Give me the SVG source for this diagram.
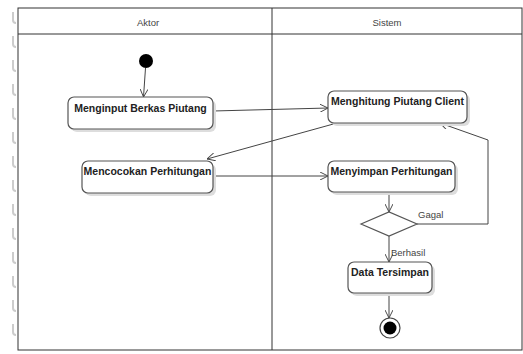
<svg xmlns="http://www.w3.org/2000/svg" width="523" height="354" viewBox="0 0 523 354">
<defs>
<style>
.frame{fill:none;stroke:#333;stroke-width:1}
.node rect{fill:#fff;stroke:#555;stroke-width:1.2}
.node .sh{fill:#ddd;stroke:none}
.lbl{font-family:"Liberation Sans",Arial,sans-serif;font-size:10.5px;font-weight:bold;fill:#222;text-anchor:middle}
.hdr{font-family:"Liberation Sans",Arial,sans-serif;font-size:9.5px;fill:#444;text-anchor:middle}
.glbl{font-family:"Liberation Sans",Arial,sans-serif;font-size:9.5px;fill:#444}
.edge{fill:none;stroke:#444;stroke-width:1;marker-end:url(#arr)}
.ring{fill:none;stroke:#ccc;stroke-width:2}
</style>
<marker id="arr" viewBox="0 0 10 10" refX="10" refY="5" markerWidth="8" markerHeight="8" orient="auto" markerUnits="userSpaceOnUse">
<path d="M0,0 L10,5 L0,10" fill="none" stroke="#444" stroke-width="1.2"/>
</marker>
</defs>
<rect width="523" height="354" fill="#fff"/>
<g id="binding">
<path class="ring" d="M13,12 v8 q0,3 3,3 M13,36 v8 q0,3 3,3 M13,60 v8 q0,3 3,3 M13,84 v8 q0,3 3,3 M13,108 v8 q0,3 3,3 M13,132 v8 q0,3 3,3 M13,156 v8 q0,3 3,3 M13,180 v8 q0,3 3,3 M13,204 v8 q0,3 3,3 M13,228 v8 q0,3 3,3 M13,252 v8 q0,3 3,3 M13,276 v8 q0,3 3,3 M13,300 v8 q0,3 3,3 M13,324 v8 q0,3 3,3"/>
</g>
<g id="swimlanes">
<rect class="frame" x="18" y="8" width="504" height="342"/>
<line class="frame" x1="18" y1="34" x2="522" y2="34"/>
<line class="frame" x1="272" y1="8" x2="272" y2="350"/>
<text class="hdr" x="148" y="26">Aktor</text>
<text class="hdr" x="387" y="26">Sistem</text>
</g>
<g id="connectors">
<line class="edge" x1="145.5" y1="68" x2="143.5" y2="97"/>
<line class="edge" x1="213" y1="111" x2="328" y2="108"/>
<line class="edge" x1="337" y1="123" x2="207" y2="159"/>
<line class="edge" x1="213" y1="176" x2="328" y2="176"/>
<line class="edge" x1="389" y1="192" x2="389" y2="212"/>
<path class="edge" d="M417,224 H488 V140 L440,123"/>
<line class="edge" x1="389" y1="236" x2="389" y2="262"/>
<line class="edge" x1="389" y1="293" x2="389" y2="318"/>
<text class="glbl" x="418" y="218">Gagal</text>
<text class="glbl" x="391" y="256">Berhasil</text>
</g>
<g id="start"><circle cx="146" cy="61" r="7" fill="#000"/></g>
<g id="menginput" class="node">
<rect class="sh" x="71" y="100" width="145" height="32" rx="6"/>
<rect x="68" y="97" width="145" height="32" rx="6"/>
<text class="lbl" x="140.5" y="112">Menginput Berkas Piutang</text>
</g>
<g id="mencocokan" class="node">
<rect class="sh" x="85" y="164" width="131" height="32" rx="6"/>
<rect x="82" y="161" width="131" height="32" rx="6"/>
<text class="lbl" x="147.5" y="175">Mencocokan Perhitungan</text>
</g>
<g id="menghitung" class="node">
<rect class="sh" x="331" y="94" width="139" height="32" rx="6"/>
<rect x="328" y="91" width="139" height="32" rx="6"/>
<text class="lbl" x="397.5" y="105">Menghitung Piutang Client</text>
</g>
<g id="menyimpan" class="node">
<rect class="sh" x="331" y="164" width="127" height="31" rx="6"/>
<rect x="328" y="161" width="127" height="31" rx="6"/>
<text class="lbl" x="391.5" y="175">Menyimpan Perhitungan</text>
</g>
<g id="decision"><polygon points="361,224 389,212 417,224 389,236" fill="#fff" stroke="#555" stroke-width="1.2"/></g>
<g id="data-tersimpan" class="node">
<rect class="sh" x="351" y="265" width="84" height="31" rx="6"/>
<rect x="348" y="262" width="84" height="31" rx="6"/>
<text class="lbl" x="390" y="276">Data Tersimpan</text>
</g>
<g id="end">
<circle cx="390" cy="328" r="10" fill="#fff" stroke="#444" stroke-width="1.2"/>
<circle cx="390" cy="328" r="6.5" fill="#000"/>
</g>
</svg>
